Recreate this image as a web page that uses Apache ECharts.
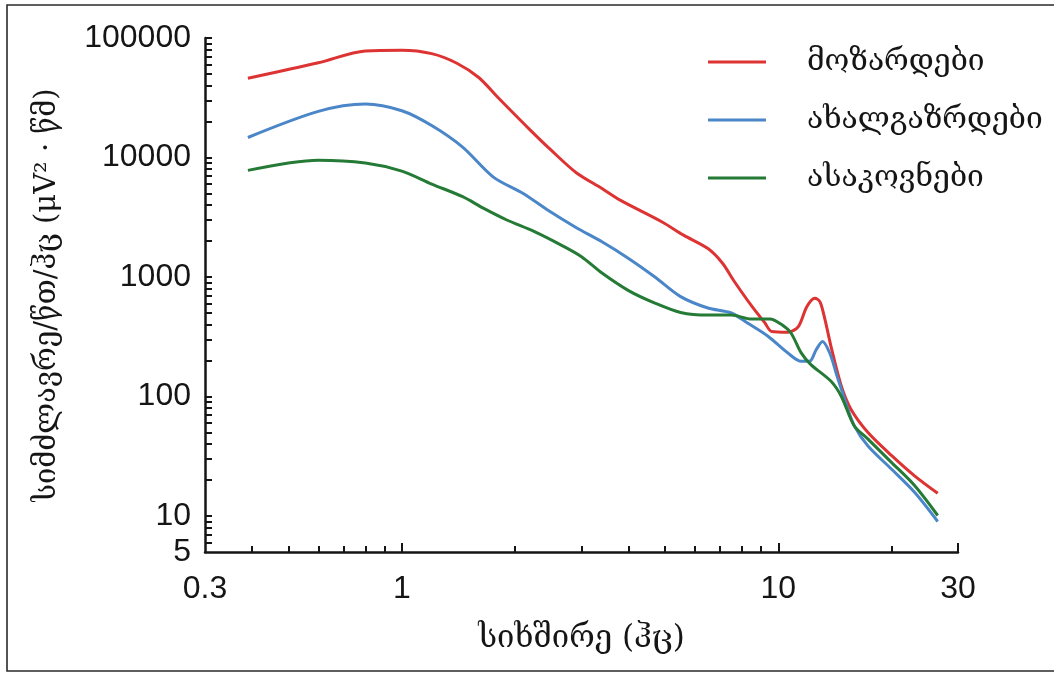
<!DOCTYPE html>
<html>
<head>
<meta charset="utf-8">
<script src="https://cdn.jsdelivr.net/npm/echarts@6/dist/echarts.min.js"></script>
<style>
  html, body { margin: 0; padding: 0; background: #ffffff; }
  #chart { width: 1054px; height: 673px; }
</style>
</head>
<body>
<div id="chart"></div>
<script>
// Power spectra by age group, frequency (Hz) vs. power (log-log)
const seriesNames = ['მოზარდები', 'ახალგაზრდები', 'ასაკოვნები'];

const freqTeen  = [0.39, 0.6, 0.8, 1.0, 1.2, 1.4, 1.6, 1.8, 2.2, 2.5, 2.9, 3.4, 3.8, 4.9, 5.6, 6.5, 7.1, 7.6, 8.5, 9.2, 9.6, 10.6, 11.3, 11.9, 12.5, 12.9, 13.3, 13.8, 14.7, 15.6, 17.3, 20, 23, 26.5];
const powerTeen = [46000, 62000, 78000, 79000, 74000, 61500, 46700, 31800, 16800, 11400, 7500, 5500, 4400, 2900, 2240, 1730, 1310, 940, 570, 415, 350, 345, 385, 565, 665, 620, 440, 262, 122, 78, 50, 32, 21.7, 15.5];

const freqYoung  = [0.39, 0.6, 0.8, 1.0, 1.2, 1.45, 1.75, 2.1, 2.45, 2.9, 3.4, 4.0, 4.7, 5.5, 6.5, 7.5, 8.3, 9.4, 10.6, 11.5, 12.1, 12.6, 13.1, 13.7, 14.3, 15.0, 15.9, 17.3, 20, 23, 26.5];
const powerYoung = [14700, 24300, 28000, 24600, 18500, 12200, 6850, 5000, 3600, 2600, 1970, 1430, 1000, 685, 550, 500, 410, 318, 231, 197, 197, 246, 289, 230, 150, 95, 57, 38.5, 24.6, 15.8, 9.0];

const freqOld  = [0.39, 0.6, 0.8, 1.0, 1.2, 1.45, 1.65, 1.9, 2.25, 2.65, 3.0, 3.4, 4.0, 4.7, 5.5, 6.5, 7.5, 8.5, 9.5, 10.2, 10.8, 11.5, 12.2, 13.8, 14.7, 15.9, 17.3, 20, 23, 26.5];
const powerOld = [7800, 9500, 9000, 7700, 6000, 4700, 3750, 3000, 2400, 1850, 1480, 1080, 770, 605, 505, 480, 480, 445, 445, 400, 340, 232, 185, 134, 100, 57, 44, 28, 18, 10.1];

const lineColors = ['#dd3333', '#4a86c8', '#257a35'];

// Axis ranges and tick positions (in Hz and in power units)
const xMin = 0.3, xMax = 30;
const yMin = 5, yMax = 100000;
const xMajorTicks = [1, 10, 30];
const xMinorTicks = [0.4, 0.5, 0.6, 0.7, 0.8, 0.9, 2, 3, 4, 5, 6, 7, 8, 9, 20];
const yDecades = [1, 10, 100, 1000, 10000];
const yMultipliers = [1, 2, 3, 4, 5, 6, 7, 8, 9];

const yTicks = [];
yDecades.forEach(d => yMultipliers.forEach(m => {
  const v = d * m;
  if (v > yMin && v <= yMax) yTicks.push(v);
}));
yTicks.push(yMax);

const ink = '#151515';
const labelFont = 'Liberation Sans, Arial, sans-serif';
const geoFont = 'DejaVu Serif, serif';
const fmt = v => String(+Number(v).toPrecision(6));

const pairs = (f, p) => f.map((x, i) => [x, p[i]]);

const tickAxisX = (values, len) => ({
  type: 'value', min: Math.log10(xMin), max: Math.log10(xMax), position: 'bottom',
  axisLine: { show: false, onZero: false }, axisLabel: { show: false }, splitLine: { show: false },
  axisTick: { show: true, inside: true, length: len, lineStyle: { color: ink, width: 2 },
              customValues: values.map(Math.log10) }
});

const chart = echarts.init(document.getElementById('chart'), null, { renderer: 'canvas' });
chart.setOption({
  animation: false,
  backgroundColor: '#ffffff',
  color: lineColors,
  grid: { left: 205, right: 96, top: 38, bottom: 121, containLabel: false },
  graphic: [{
    type: 'rect', silent: true, z: 100,
    shape: { x: 7, y: 5, width: 1070, height: 666 },
    style: { fill: 'none', stroke: '#2a2a2a', lineWidth: 1.6 }
  }],
  legend: {
    data: seriesNames, orient: 'vertical', left: 703, top: 40,
    icon: 'rect', itemWidth: 58, itemHeight: 3, itemGap: 24,
    textStyle: { fontFamily: geoFont, fontSize: 30, color: ink, lineHeight: 34, padding: [0, 0, 0, 36] }
  },
  xAxis: [
    {
      type: 'log', logBase: 10, min: xMin, max: xMax,
      axisLine: { onZero: false, lineStyle: { color: ink, width: 2.5 } },
      axisTick: { show: false }, splitLine: { show: false }, minorTick: { show: false },
      axisLabel: { fontFamily: labelFont, fontSize: 32, color: ink, margin: 21,
                   showMinLabel: true, showMaxLabel: true, formatter: fmt },
      name: 'სიხშირე (ჰც)', nameLocation: 'middle', nameGap: 71,
      nameTextStyle: { fontFamily: geoFont, fontSize: 31, color: ink }
    },
    tickAxisX(xMajorTicks, 9),
    tickAxisX(xMinorTicks, 6)
  ],
  yAxis: [
    {
      type: 'log', logBase: 10, min: yMin, max: yMax,
      axisLine: { onZero: false, lineStyle: { color: ink, width: 2.5 } },
      axisTick: { show: false }, splitLine: { show: false }, minorTick: { show: false },
      axisLabel: { fontFamily: labelFont, fontSize: 32, color: ink, margin: 14,
                   showMinLabel: true, showMaxLabel: true, formatter: fmt },
      name: 'სიმძლავრე/წთ/ჰც (μV² · წმ)', nameLocation: 'middle', nameGap: 143,
      nameTextStyle: { fontFamily: geoFont, fontSize: 29, color: ink }
    },
    {
      type: 'value', min: Math.log10(yMin), max: Math.log10(yMax), position: 'left',
      axisLine: { show: false, onZero: false }, axisLabel: { show: false }, splitLine: { show: false },
      axisTick: { show: true, inside: true, length: 7, lineStyle: { color: ink, width: 2 },
                  customValues: yTicks.map(Math.log10) }
    }
  ],
  series: [
    { name: seriesNames[0], data: pairs(freqTeen, powerTeen) },
    { name: seriesNames[1], data: pairs(freqYoung, powerYoung) },
    { name: seriesNames[2], data: pairs(freqOld, powerOld) }
  ].map((s, i) => Object.assign({
    type: 'line', xAxisIndex: 0, yAxisIndex: 0, smooth: 0.3, showSymbol: false,
    lineStyle: { width: 3, color: lineColors[i] }, itemStyle: { color: lineColors[i] }
  }, s))
});
</script>
</body>
</html>
